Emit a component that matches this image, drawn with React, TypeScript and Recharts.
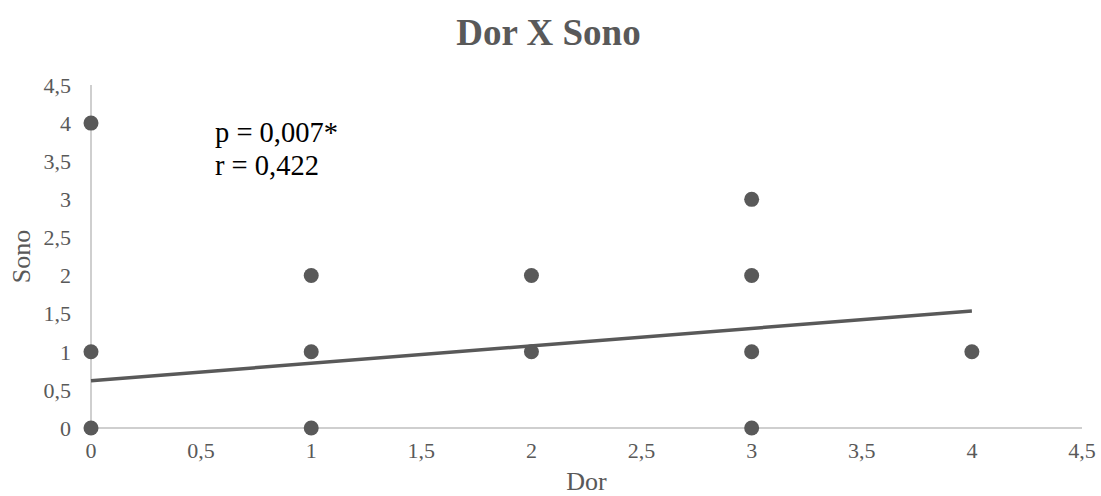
import { Label, Scatter, ScatterChart, XAxis, YAxis } from "recharts";

const dorValues = [0, 0, 0, 1, 1, 1, 2, 2, 3, 3, 3, 3, 4];
const sonoValues = [4, 1, 0, 2, 1, 0, 2, 1, 3, 2, 1, 0, 1];
const trendDor = [0, 4];
const trendSono = [0.62, 1.535];
const axisTicks = [0, 0.5, 1, 1.5, 2, 2.5, 3, 3.5, 4, 4.5];

const points = dorValues.map((dor, i) => ({ dor, sono: sonoValues[i] }));
const trend = trendDor.map((dor, i) => ({ dor, sono: trendSono[i] }));

const font = "'Times New Roman', 'Liberation Serif', serif";
const grey = "#595959";
const fmt = (v: number) => String(v).replace(".", ",");

const Dot = (props: any) => (
  <circle cx={props.cx} cy={props.cy} r={7.5} fill={grey} />
);

export default function App() {
  return (
    <div style={{ position: "absolute", left: 0, top: 0, width: 1101, height: 496 }}>
      <ScatterChart
        width={1101}
        height={496}
        margin={{ top: 85, right: 19, left: 0, bottom: 0 }}
      >
        <XAxis
          type="number"
          dataKey="dor"
          domain={[0, 4.5]}
          ticks={axisTicks}
          tickFormatter={fmt}
          height={68}
          axisLine={{ stroke: "#bfbfbf", strokeWidth: 1.5 }}
          tickLine={false}
          tickSize={6}
          tickMargin={8}
          tick={{ fill: grey, fontSize: 22, fontFamily: font }}
        >
          <Label
            value="Dor"
            position="insideBottom"
            offset={6}
            style={{ fill: grey, fontSize: 26, fontFamily: font }}
          />
        </XAxis>
        <YAxis
          type="number"
          dataKey="sono"
          domain={[0, 4.5]}
          ticks={axisTicks}
          tickFormatter={fmt}
          width={91}
          axisLine={{ stroke: "#bfbfbf", strokeWidth: 1.5 }}
          tickLine={false}
          tickSize={6}
          tickMargin={14}
          tick={{ fill: grey, fontSize: 22, fontFamily: font }}
        >
          <Label
            value="Sono"
            angle={-90}
            position="insideLeft"
            offset={21}
            style={{ fill: grey, fontSize: 26, fontFamily: font, textAnchor: "middle" }}
          />
        </YAxis>
        <Scatter data={points} shape={Dot} isAnimationActive={false} />
        <Scatter
          data={trend}
          line={{ stroke: grey, strokeWidth: 3.5 }}
          shape={() => <g />}
          isAnimationActive={false}
        />
      </ScatterChart>
      <svg
        width={1101}
        height={496}
        style={{ position: "absolute", left: 0, top: 0, pointerEvents: "none" }}
      >
        <text
          x={548.5}
          y={45}
          textAnchor="middle"
          fontSize={37}
          fontWeight="bold"
          fontFamily={font}
          fill={grey}
        >
          Dor X Sono
        </text>
        <text x={215} y={142} fontSize={28.5} fontFamily={font} fill="#000">
          p = 0,007*
        </text>
        <text x={215} y={175} fontSize={28.5} fontFamily={font} fill="#000">
          r = 0,422
        </text>
      </svg>
    </div>
  );
}
